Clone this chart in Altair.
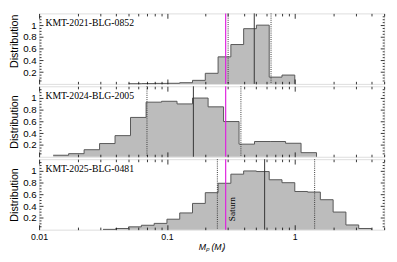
import altair as alt
import pandas as pd

# ---------------- data ----------------
names = ["KMT-2021-BLG-0852", "KMT-2024-BLG-2005", "KMT-2025-BLG-0481"]

# log10(Mp/MJ) bin edges and normalised heights
edges1 = [-1.3, -1.2, -1.1, -1.0, -0.9, -0.8, -0.7, -0.6, -0.5, -0.4, -0.3, -0.2, -0.1, 0.0]
heights1 = [0.003, 0.005, 0.008, 0.01, 0.02, 0.06, 0.18, 0.46, 0.67, 0.94, 1.0, 0.115, 0.15]

edges2 = [-1.89, -1.769, -1.648, -1.527, -1.406, -1.285, -1.163, -1.042, -0.921,
          -0.8, -0.678, -0.557, -0.436, -0.315, -0.193, -0.072, 0.049, 0.17]
heights2 = [0.026, 0.053, 0.12, 0.225, 0.36, 0.67, 0.93, 0.945, 0.90, 1.0,
            0.85, 0.60, 0.215, 0.26, 0.26, 0.23, 0.07]

edges3 = [-1.5, -1.4, -1.3, -1.2, -1.1, -1.0, -0.9, -0.8, -0.7, -0.6, -0.5,
          -0.4, -0.3, -0.2, -0.1, 0.0, 0.1, 0.2, 0.3, 0.4, 0.5, 0.6]
heights3 = [0.005, 0.02, 0.048, 0.075, 0.107, 0.178, 0.285, 0.447, 0.63, 0.79, 0.945,
            1.0, 0.99, 0.85, 0.80, 0.65, 0.64, 0.51, 0.30, 0.08, 0.02]

lower = [0.301, 0.0698, 0.248]
median = [0.482, 0.161, 0.581]
upper = [0.652, 0.379, 1.43]
saturn = 0.288

x_major = [0.01, 0.1, 1]
x_ticks = [0.01, 0.02, 0.03, 0.04, 0.05, 0.06, 0.07, 0.08, 0.09,
           0.1, 0.2, 0.3, 0.4, 0.5, 0.6, 0.7, 0.8, 0.9, 1, 2, 3, 4, 5]
y_major = [0.2, 0.4, 0.6, 0.8, 1]
y_ticks = [0.05, 0.1, 0.15, 0.2, 0.25, 0.3, 0.35, 0.4, 0.45, 0.5, 0.55, 0.6,
           0.65, 0.7, 0.75, 0.8, 0.85, 0.9, 0.95, 1.0, 1.05, 1.1, 1.15]

# ---------------- layout / style ----------------
W, H = 355, 72.5
FONT = "Liberation Serif"
xscale = alt.Scale(type="log", domain=[0.01, 5], nice=False)
yscale = alt.Scale(domain=[0, 1.2], nice=False, zero=True)

xtick_size = {"condition": {"test": "abs(log(datum.value)/LN10 - round(log(datum.value)/LN10)) < 0.001",
                            "value": 5}, "value": 2.6}
ytick_size = {"condition": {"test": "abs(datum.value*5 - round(datum.value*5)) < 0.001",
                            "value": 4}, "value": 2}


def tick_axis(orient, offset, values, size):
    return alt.Axis(orient=orient, offset=offset, values=values, labels=False,
                    domain=False, grid=False, title=None, tickSize=size,
                    tickColor="black", tickWidth=0.8, zindex=2)


def panel(i, edges, heights, bottom):
    mass = [10 ** e for e in edges]
    hist = pd.DataFrame({"m": mass, "h": heights + [0.0]})

    if bottom:
        x_main = alt.Axis(orient="bottom", values=x_major, labels=True, ticks=False,
                          domain=False, grid=False, title="Mₚ (Mⱼ)", format="~g",
                          labelFlush=False, labelPadding=3, titlePadding=1,
                          labelFontSize=9, titleFontSize=9,
                          titleFontStyle="italic", titleFontWeight="normal")
    else:
        x_main = None
    ykw = {}
    if i == 0:
        ykw["titleY"] = H / 2 - 8
    y_main = alt.Axis(orient="left", values=y_major, ticks=False, domain=False,
                      grid=False, title="Distribution", format="~g",
                      labelPadding=3, titlePadding=3.5, titleFontWeight="normal", **ykw)

    area = alt.Chart(hist).mark_area(interpolate="step-after", color="#bcbcbc").encode(
        x=alt.X("m:Q", scale=xscale, axis=x_main),
        y=alt.Y("h:Q", scale=yscale, axis=y_main),
    )
    outline = alt.Chart(hist).mark_line(interpolate="step-after", color="#555555",
                                        strokeWidth=1).encode(
        x=alt.X("m:Q", scale=xscale, axis=None),
        y=alt.Y("h:Q", scale=yscale, axis=None),
    )
    dotted = alt.Chart(pd.DataFrame({"lo_hi": [lower[i], upper[i]]})).mark_rule(
        color="#333333", strokeDash=[1, 1.2], strokeWidth=1).encode(
        x=alt.X("lo_hi:Q", scale=xscale, axis=None))
    solid = alt.Chart(pd.DataFrame({"med": [median[i]]})).mark_rule(
        color="#333333", strokeWidth=1).encode(
        x=alt.X("med:Q", scale=xscale, axis=None))
    sat = alt.Chart(pd.DataFrame({"sat": [saturn], "panel": [i]})).mark_rule(
        color="#e020e0", strokeWidth=1.2).encode(
        x=alt.X("sat:Q", scale=xscale, axis=None))

    # invisible carriers for the inward-pointing tick axes on all four sides
    ticks_a = alt.Chart(hist).mark_line(opacity=0, strokeWidth=0).encode(
        x=alt.X("m:Q", scale=xscale, axis=tick_axis("top", -H, x_ticks, xtick_size)),
        y=alt.Y("h:Q", scale=yscale, axis=tick_axis("right", -W, y_ticks, ytick_size)),
    )
    ticks_b = alt.Chart(hist).mark_line(opacity=0, strokeWidth=0).encode(
        x=alt.X("m:Q", scale=xscale, axis=tick_axis("bottom", -H, x_ticks, xtick_size)),
        y=alt.Y("h:Q", scale=yscale, axis=tick_axis("left", -W, y_ticks, ytick_size)),
    )

    label = alt.Chart(pd.DataFrame({"m": [0.0112], "h": [0.98], "t": [names[i]]})).mark_text(
        align="left", baseline="alphabetic", font=FONT, fontSize=10, color="black").encode(
        x=alt.X("m:Q", scale=xscale, axis=None),
        y=alt.Y("h:Q", scale=yscale, axis=None),
        text="t:N")

    layers = [area, outline]
    if bottom:
        stxt = alt.Chart(pd.DataFrame({"m": [0.326], "h": [0.35], "t": ["Saturn"]})).mark_text(
            angle=270, align="center", baseline="middle", font=FONT, fontSize=9.5,
            color="black").encode(
            x=alt.X("m:Q", scale=xscale, axis=None),
            y=alt.Y("h:Q", scale=yscale, axis=None),
            text="t:N")
        layers.append(stxt)
    layers += [dotted, solid, ticks_a, ticks_b, label, sat]

    return alt.layer(*layers).resolve_axis(x="independent", y="independent").properties(
        width=W, height=H)


chart = alt.vconcat(
    panel(0, edges1, heights1, False),
    panel(1, edges2, heights2, False),
    panel(2, edges3, heights3, True),
    spacing=-2,
).properties(padding={"left": 0, "top": 0, "right": 4, "bottom": 0}).configure_view(
    stroke="black", strokeWidth=1
).configure_axis(
    labelFont=FONT, labelFontSize=8.5, labelColor="black",
    titleFont=FONT, titleFontSize=8.5, titleColor="black",
).configure(background="white")

chart.save("out.html", embed_options={"renderer": "svg", "actions": False})
